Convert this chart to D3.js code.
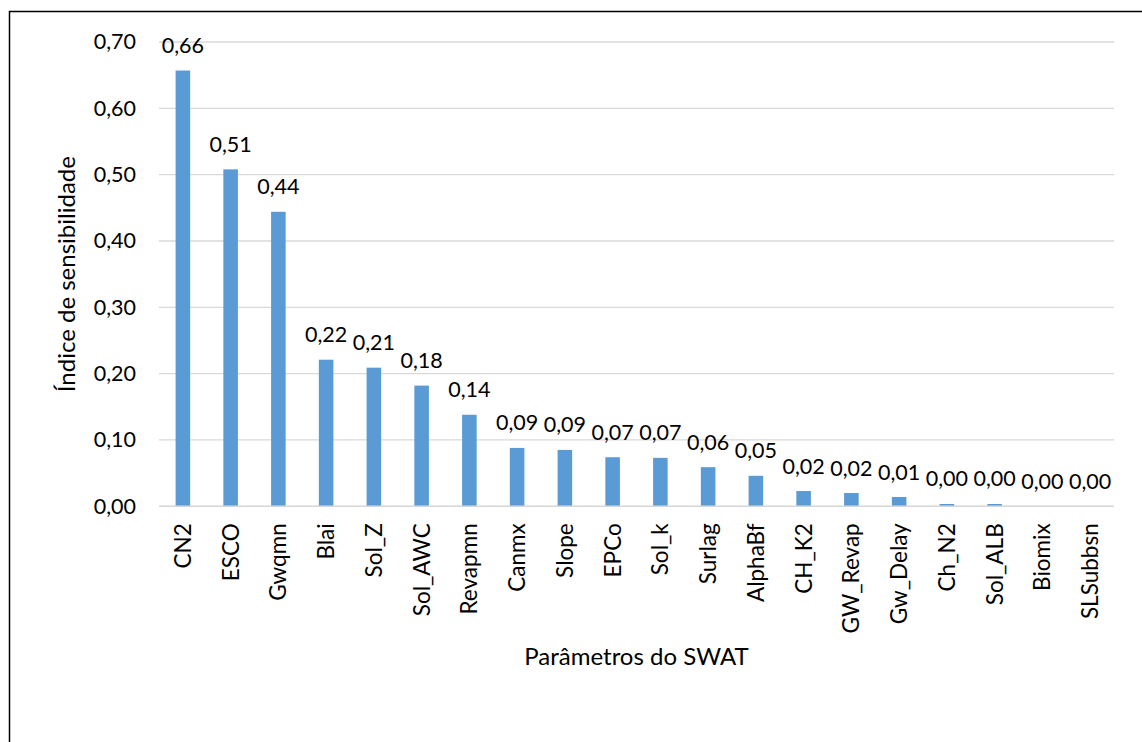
<!DOCTYPE html>
<html>
<head>
<meta charset="utf-8">
<script src="https://cdn.jsdelivr.net/npm/d3@7"></script>
<style>
  html, body { margin: 0; padding: 0; background: #fff; }
  svg { display: block; }
  text { font-family: Lato, "Open Sans", sans-serif; fill: #000; }
</style>
</head>
<body>
<svg id="chart" width="1142" height="742"></svg>
<script>
// SWAT parameter sensitivity indices
const parametros = ["CN2", "ESCO", "Gwqmn", "Blai", "Sol_Z", "Sol_AWC", "Revapmn", "Canmx",
  "Slope", "EPCo", "Sol_k", "Surlag", "AlphaBf", "CH_K2", "GW_Revap", "Gw_Delay",
  "Ch_N2", "Sol_ALB", "Biomix", "SLSubbsn"];
const indices = [0.657, 0.508, 0.444, 0.221, 0.209, 0.182, 0.138, 0.088,
  0.085, 0.074, 0.073, 0.059, 0.046, 0.023, 0.020, 0.014,
  0.0035, 0.0035, 0.0, 0.0];
const yTicks = [0, 0.1, 0.2, 0.3, 0.4, 0.5, 0.6, 0.7];

const svg = d3.select("#chart");
const plotLeft = 159, plotRight = 1114, plotTop = 42, plotBottom = 506.3;
const numberSize = "21.5px", categorySize = "22.5px", titleSize = "24px";

const fmt = v => d3.format(".2f")(v).replace(".", ",");

// outer frame
svg.append("rect")
  .attr("x", 9.5).attr("y", 11.5)
  .attr("width", 1200).attr("height", 800)
  .attr("fill", "none").attr("stroke", "#000").attr("stroke-width", 1.5);

const x = d3.scaleBand().domain(parametros).range([plotLeft, plotRight])
  .paddingInner(0.695).paddingOuter(0.3475);
const y = d3.scaleLinear().domain([0, 0.7]).range([plotBottom, plotTop]);

// gridlines
svg.append("g").selectAll("line").data(yTicks).join("line")
  .attr("x1", plotLeft).attr("x2", plotRight)
  .attr("y1", d => y(d)).attr("y2", d => y(d))
  .attr("stroke", "#d9d9d9").attr("stroke-width", 1.3);

// y tick labels
const yAxis = d3.axisLeft(y).tickValues(yTicks).tickFormat(fmt).tickSize(0).tickPadding(23);
const gy = svg.append("g").attr("transform", `translate(${plotLeft},0)`).call(yAxis);
gy.select(".domain").remove();
gy.selectAll("text").style("font-size", numberSize).style("font-family", "Lato, sans-serif").attr("fill", "#000");

// bars
svg.append("g").selectAll("rect").data(parametros).join("rect")
  .attr("x", d => x(d))
  .attr("width", x.bandwidth())
  .attr("y", (d, i) => y(indices[i]))
  .attr("height", (d, i) => y(0) - y(indices[i]))
  .attr("fill", "#5b9bd5");

// baseline
svg.append("line")
  .attr("x1", plotLeft).attr("x2", plotRight)
  .attr("y1", y(0)).attr("y2", y(0))
  .attr("stroke", "#d9d9d9").attr("stroke-width", 1.5);

// value labels
svg.append("g").selectAll("text").data(parametros).join("text")
  .attr("x", d => x(d) + x.bandwidth() / 2)
  .attr("y", (d, i) => y(indices[i]) - 17.5)
  .attr("text-anchor", "middle")
  .style("font-size", numberSize)
  .text((d, i) => fmt(indices[i]));

// category labels
const xAxis = d3.axisBottom(x).tickSize(0).tickPadding(0);
const gx = svg.append("g").attr("transform", `translate(0,${y(0)})`).call(xAxis);
gx.select(".domain").remove();
gx.selectAll("text")
  .style("font-size", categorySize).style("font-family", "Lato, sans-serif").attr("fill", "#000")
  .attr("text-anchor", "end")
  .attr("transform", "rotate(-90)")
  .attr("x", -17).attr("y", 0).attr("dy", "0.36em");

// axis titles
svg.append("text")
  .attr("x", (plotLeft + plotRight) / 2).attr("y", 665)
  .attr("text-anchor", "middle")
  .style("font-size", titleSize)
  .text("Parâmetros do SWAT");

svg.append("text")
  .attr("transform", `translate(75,${(plotTop + plotBottom) / 2}) rotate(-90)`)
  .attr("text-anchor", "middle")
  .style("font-size", titleSize)
  .text("Índice de sensibilidade");
</script>
</body>
</html>
